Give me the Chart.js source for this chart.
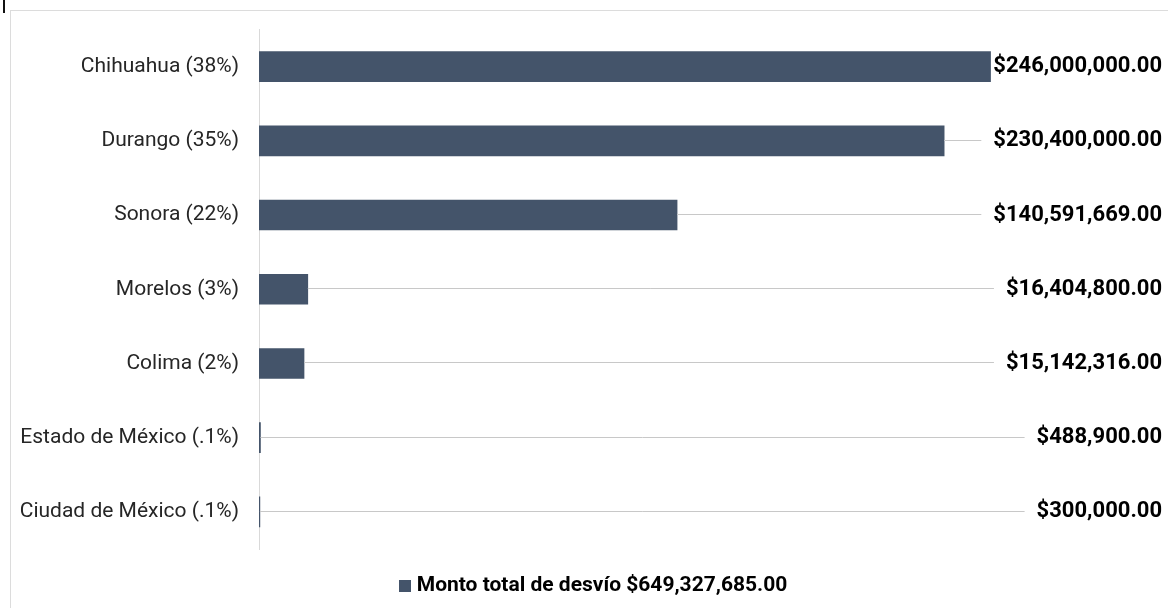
<!DOCTYPE html>
<html><head><meta charset="utf-8">
<script src="https://cdn.jsdelivr.net/npm/chart.js@4.4.0/dist/chart.umd.min.js"></script>
<style>
html,body{margin:0;padding:0;background:#fff;overflow:hidden;}
#frame{position:absolute;left:10px;top:10px;width:1200px;height:700px;border:1px solid #dcdcdc;}
#mark{position:absolute;left:3px;top:0;width:2px;height:13px;background:#111;}
#wrap{position:absolute;left:0;top:0;width:1168px;height:608px;}
canvas{display:block;}
</style></head><body>
<div id="frame"></div><div id="mark"></div>
<div id="wrap"><canvas id="c" width="1168" height="608"></canvas></div>
<script>
const categories = ['Chihuahua (38%)', 'Durango (35%)', 'Sonora (22%)', 'Morelos (3%)', 'Colima (2%)', 'Estado de México (.1%)', 'Ciudad de México (.1%)'];
const values = [246000000, 230400000, 140591669, 16404800, 15142316, 488900, 300000];
const valueLabels = ['$246,000,000.00', '$230,400,000.00', '$140,591,669.00', '$16,404,800.00', '$15,142,316.00', '$488,900.00', '$300,000.00'];
const seriesName = 'Monto total de desvío $649,327,685.00';
const axisMax = 305000000;

const barColor = '#44546A';

const valueLabelPlugin = {
  id: 'valueLabels',
  afterDatasetsDraw(chart) {
    const ctx = chart.ctx;
    const meta = chart.getDatasetMeta(0);
    const right = chart.chartArea.right - 4;
    ctx.save();
    ctx.font = 'bold 22px Roboto';
    ctx.textAlign = 'right';
    ctx.textBaseline = 'middle';
    meta.data.forEach((bar, i) => {
      const txt = valueLabels[i];
      const w = ctx.measureText(txt).width;
      const left = right - w;
      const lineEnd = left - 12;
      if (bar.x < lineEnd) {
        ctx.strokeStyle = '#c8c8c8';
        ctx.lineWidth = 1;
        ctx.beginPath();
        ctx.moveTo(bar.x, Math.round(bar.y) - 0.5);
        ctx.lineTo(lineEnd, Math.round(bar.y) - 0.5);
        ctx.stroke();
      }
      ctx.fillStyle = '#000';
      ctx.fillText(txt, right, bar.y);
    });
    ctx.restore();
  }
};

const legendPlugin = {
  id: 'customLegend',
  afterDraw(chart) {
    const ctx = chart.ctx;
    const ds = chart.data.datasets[0];
    ctx.save();
    ctx.font = 'bold 21px Roboto';
    const tw = ctx.measureText(ds.label).width;
    const box = 12, gap = 6;
    const total = box + gap + tw;
    const cx = 593, cy = 586;
    const x0 = cx - total / 2;
    ctx.fillStyle = ds.backgroundColor;
    ctx.fillRect(Math.round(x0), cy - 6, box, box);
    ctx.fillStyle = '#000';
    ctx.textAlign = 'left';
    ctx.textBaseline = 'middle';
    ctx.fillText(ds.label, x0 + box + gap, cy);
    ctx.restore();
  }
};

new Chart(document.getElementById('c'), {
  type: 'bar',
  data: {
    labels: categories,
    datasets: [{
      label: seriesName,
      data: values,
      backgroundColor: barColor,
      borderWidth: 0,
      barThickness: 30
    }]
  },
  options: {
    indexAxis: 'y',
    responsive: false,
    animation: false,
    layout: { padding: { left: 16, right: 2, top: 29.5, bottom: 59 } },
    scales: {
      x: { display: false, min: 0, max: axisMax },
      y: {
        grid: { display: false, drawTicks: true, tickLength: 14 },
        border: { display: true, color: '#d9d9d9', width: 1 },
        ticks: { padding: 6, color: '#262626', font: { family: 'Roboto', size: 21 } },
        afterFit(scale) { scale.width = 243; }
      }
    },
    plugins: {
      tooltip: { enabled: false },
      legend: { display: false }
    }
  },
  plugins: [valueLabelPlugin, legendPlugin]
});
</script>
</body></html>
